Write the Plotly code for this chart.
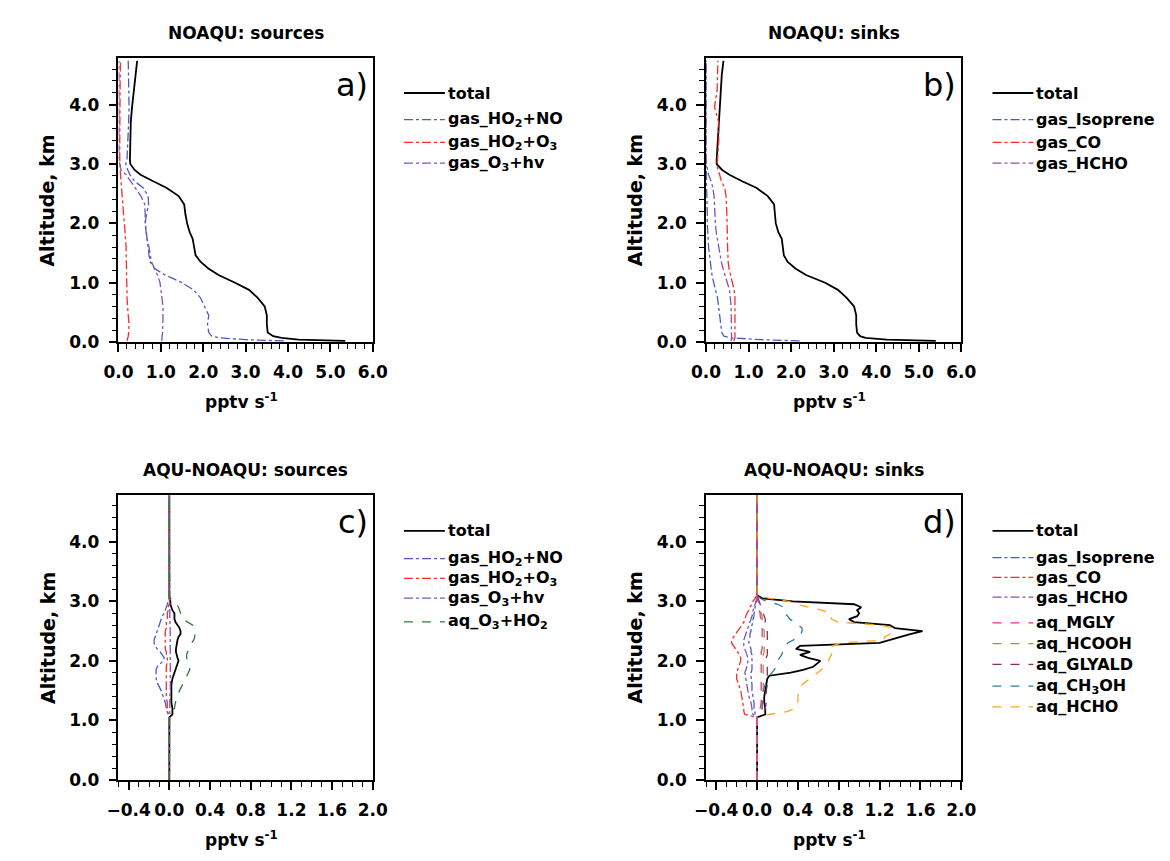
import plotly.graph_objects as go

W, H = 1170, 861
FONT = "DejaVu Sans, Liberation Sans, Arial, sans-serif"

# ---------------- data ----------------
alt_top = [0.02, 0.04, 0.07, 0.10, 0.16, 0.30, 0.45, 0.60, 0.75, 0.88, 1.00, 1.13, 1.24, 1.35, 1.46, 1.60, 1.74,
           1.85, 2.00, 2.15, 2.32, 2.46, 2.60, 2.71, 2.82, 2.90, 3.00, 3.07, 3.40, 3.70, 3.96, 4.24, 4.50, 4.74]

a_total = [5.35, 4.25, 3.85, 3.65, 3.52, 3.50, 3.50, 3.45, 3.28, 3.08, 2.75, 2.36, 2.12, 1.94, 1.82, 1.78, 1.75,
           1.68, 1.62, 1.58, 1.55, 1.42, 1.13, 0.82, 0.52, 0.38, 0.28, 0.27, 0.28, 0.29, 0.32, 0.36, 0.40, 0.44]
a_ho2_no = [3.90, 3.00, 2.40, 2.20, 2.13, 2.10, 2.13, 2.03, 1.93, 1.77, 1.50, 1.10, 0.85, 0.75, 0.72, 0.70, 0.67,
            0.65, 0.63, 0.66, 0.71, 0.70, 0.58, 0.38, 0.27, 0.22, 0.17, 0.20, 0.23, 0.24, 0.25, 0.24, 0.23, 0.23]
a_ho2_o3 = [0.20, 0.21, 0.22, 0.23, 0.24, 0.25, 0.23, 0.21, 0.20, 0.20, 0.19, 0.19, 0.19, 0.18, 0.18, 0.18, 0.17,
            0.16, 0.14, 0.12, 0.10, 0.09, 0.08, 0.07, 0.05, 0.04, 0.04, 0.03, 0.03, 0.03, 0.03, 0.04, 0.04, 0.05]
a_o3_hv = [1.02, 1.02, 1.03, 1.03, 1.04, 1.05, 1.05, 1.05, 1.03, 1.01, 0.98, 0.92, 0.85, 0.78, 0.75, 0.72, 0.67,
           0.65, 0.63, 0.63, 0.62, 0.53, 0.40, 0.30, 0.18, 0.06, 0.02, 0.01, 0.01, 0.01, 0.01, 0.01, 0.01, 0.01]

b_total = [5.40, 4.25, 3.75, 3.62, 3.55, 3.53, 3.53, 3.48, 3.30, 3.10, 2.80, 2.35, 2.10, 1.92, 1.83, 1.80, 1.78,
           1.70, 1.64, 1.62, 1.60, 1.45, 1.18, 0.85, 0.55, 0.38, 0.25, 0.25, 0.28, 0.30, 0.32, 0.35, 0.37, 0.41]
b_isoprene = [2.20, 1.30, 0.60, 0.42, 0.37, 0.35, 0.33, 0.30, 0.27, 0.22, 0.18, 0.14, 0.12, 0.10, 0.08, 0.06, 0.05,
              0.04, 0.03, 0.03, 0.02, 0.02, 0.01, 0.01, 0.01, 0.00, 0.00, 0.00, 0.00, 0.00, 0.00, 0.00, 0.00, 0.00]
b_co = [0.65, 0.67, 0.68, 0.68, 0.68, 0.68, 0.68, 0.68, 0.68, 0.66, 0.62, 0.57, 0.54, 0.52, 0.51, 0.50, 0.50,
        0.50, 0.50, 0.49, 0.48, 0.47, 0.44, 0.36, 0.32, 0.28, 0.26, 0.27, 0.30, 0.30, 0.20, 0.26, 0.27, 0.28]
b_hcho = [0.58, 0.60, 0.60, 0.60, 0.60, 0.60, 0.60, 0.59, 0.57, 0.55, 0.50, 0.44, 0.40, 0.36, 0.33, 0.30, 0.26,
          0.24, 0.22, 0.21, 0.20, 0.19, 0.16, 0.12, 0.06, 0.03, 0.01, 0.00, 0.00, 0.00, 0.00, 0.00, 0.00, 0.00]

alt_bot = [0.00, 1.05, 1.10, 1.15, 1.20, 1.30, 1.40, 1.50, 1.60, 1.70, 1.75, 1.80, 1.85, 1.90, 2.00, 2.05, 2.10,
           2.15, 2.20, 2.25, 2.30, 2.35, 2.40, 2.45, 2.50, 2.55, 2.60, 2.65, 2.70, 2.75, 2.80, 2.85, 2.90, 2.95,
           3.00, 3.05, 3.10, 4.78]

c_total = [0, 0, 0.03, 0.03, 0.03, 0.02, 0.02, 0.02, 0.02, 0.03, 0.04, 0.05, 0.06, 0.07, 0.09, 0.08, 0.07,
           0.065, 0.065, 0.07, 0.07, 0.08, 0.09, 0.11, 0.11, 0.10, 0.08, 0.06, 0.05, 0.05, 0.05, 0.03, 0.02, 0.01,
           0.01, 0, 0, 0]
c_ho2_no = [0, 0, -0.01, -0.02, -0.03, -0.04, -0.06, -0.08, -0.11, -0.13, -0.13, -0.13, -0.13, -0.12, -0.06, -0.05,
            -0.07, -0.09, -0.12, -0.14, -0.15, -0.15, -0.14, -0.13, -0.12, -0.11, -0.10, -0.09, -0.08, -0.07, -0.05,
            -0.04, -0.03, -0.02, -0.01, 0, 0, 0]
c_ho2_o3 = [0, 0, -0.01, -0.02, -0.02, -0.02, -0.03, -0.03, -0.03, -0.03, -0.03, -0.03, -0.03, -0.03, -0.02, -0.02,
            -0.03, -0.03, -0.04, -0.04, -0.04, -0.04, -0.04, -0.04, -0.04, -0.03, -0.03, -0.03, -0.02, -0.02, -0.02,
            -0.01, -0.01, -0.01, 0, 0, 0, 0]
c_o3_hv = [0, 0, 0, 0, 0, 0.005, 0.005, 0.01, 0.01, 0.01, 0.012, 0.015, 0.015, 0.015, 0.015, 0.015, 0.015, 0.015,
           0.015, 0.015, 0.015, 0.015, 0.015, 0.012, 0.01, 0.01, 0.008, 0.005, 0.005, 0.003, 0.002, 0, 0, 0, 0, 0,
           0, 0]
c_aq_o3_ho2 = [0, 0, 0.0, 0.02, 0.05, 0.06, 0.08, 0.10, 0.13, 0.16, 0.17, 0.19, 0.20, 0.20, 0.18, 0.17, 0.17,
               0.18, 0.20, 0.21, 0.22, 0.24, 0.25, 0.25, 0.24, 0.24, 0.23, 0.18, 0.13, 0.12, 0.11, 0.10, 0.09,
               0.07, 0.05, 0.01, 0, 0]

d_total = [0, 0, 0.08, 0.08, 0.08, 0.07, 0.07, 0.08, 0.09, 0.10, 0.12, 0.33, 0.45, 0.55, 0.62, 0.50, 0.42, 0.52,
           0.38, 0.42, 1.20, 1.30, 1.38, 1.50, 1.62, 1.35, 1.30, 0.95, 0.90, 0.98, 1.00, 0.98, 1.02, 0.95, 0.35,
           0.05, 0, 0]
d_isoprene = [0, 0, -0.02, -0.02, -0.03, -0.03, -0.04, -0.05, -0.05, -0.06, -0.06, -0.06, -0.05, -0.05, -0.05,
              -0.05, -0.05, -0.06, -0.06, -0.07, -0.08, -0.08, -0.07, -0.07, -0.06, -0.06, -0.05, -0.04, -0.04,
              -0.03, -0.03, -0.02, -0.02, -0.01, -0.01, 0, 0, 0]
d_co = [0, 0, -0.12, -0.13, -0.13, -0.14, -0.15, -0.16, -0.18, -0.20, -0.20, -0.20, -0.19, -0.18, -0.16, -0.16,
        -0.17, -0.19, -0.21, -0.23, -0.25, -0.25, -0.23, -0.21, -0.19, -0.17, -0.15, -0.13, -0.12, -0.11, -0.10,
        -0.08, -0.07, -0.05, -0.04, -0.02, 0, 0]
d_hcho = [0, 0, -0.04, -0.05, -0.05, -0.06, -0.08, -0.09, -0.10, -0.11, -0.12, -0.12, -0.11, -0.10, -0.09, -0.09,
          -0.10, -0.11, -0.12, -0.13, -0.13, -0.13, -0.12, -0.11, -0.10, -0.09, -0.08, -0.07, -0.06, -0.05, -0.04,
          -0.04, -0.03, -0.02, -0.01, 0, 0, 0]
d_aq_mgly = [0, 0, 0.02, 0.03, 0.03, 0.04, 0.04, 0.04, 0.04, 0.04, 0.04, 0.04, 0.04, 0.04, 0.04, 0.04, 0.04, 0.04,
             0.05, 0.05, 0.05, 0.05, 0.05, 0.05, 0.05, 0.05, 0.04, 0.04, 0.04, 0.03, 0.03, 0.02, 0.02, 0.01, 0.01,
             0, 0, 0]
d_aq_hcooh = [0, 0, 0.03, 0.04, 0.05, 0.05, 0.06, 0.06, 0.06, 0.06, 0.06, 0.06, 0.06, 0.06, 0.06, 0.06, 0.06,
              0.07, 0.07, 0.07, 0.07, 0.07, 0.07, 0.07, 0.07, 0.06, 0.06, 0.06, 0.05, 0.05, 0.04, 0.03, 0.03, 0.02,
              0.01, 0, 0, 0]
d_aq_glyald = [0, 0, 0.05, 0.07, 0.08, 0.09, 0.09, 0.09, 0.10, 0.10, 0.10, 0.10, 0.10, 0.10, 0.09, 0.09, 0.10,
               0.10, 0.10, 0.10, 0.10, 0.10, 0.10, 0.10, 0.10, 0.09, 0.09, 0.08, 0.08, 0.07, 0.06, 0.05, 0.04, 0.03,
               0.02, 0.01, 0, 0]
d_aq_ch3oh = [0, 0, 0.03, 0.04, 0.05, 0.05, 0.05, 0.06, 0.08, 0.10, 0.12, 0.15, 0.17, 0.18, 0.20, 0.22, 0.24,
              0.25, 0.27, 0.29, 0.30, 0.36, 0.41, 0.43, 0.44, 0.44, 0.41, 0.37, 0.32, 0.30, 0.27, 0.27, 0.26, 0.20,
              0.09, 0.03, 0, 0]
d_aq_hcho = [0, 0, 0.12, 0.30, 0.37, 0.40, 0.40, 0.41, 0.44, 0.52, 0.56, 0.60, 0.63, 0.65, 0.70, 0.71, 0.73, 0.72,
             0.70, 0.74, 0.82, 1.24, 1.25, 1.30, 1.31, 1.34, 1.21, 0.79, 0.73, 0.72, 0.72, 0.63, 0.50, 0.38, 0.31,
             0.12, 0, 0]

# ---------------- styles ----------------
C_BLACK = "#000000"
C_BLUE = "#4a5cc0"
C_RED = "#ff2a2a"
C_PURPLE = "#8450b8"
C_GREEN = "#2e7d3a"
C_MAGENTA = "#e8309a"
C_OLIVE = "#9a9a2a"
C_DMAG = "#8e2a66"
C_TEAL = "#2e7c9c"
C_ORANGE = "#ffa41e"


def px_x(p):
    return p / W


def px_y(p):
    return 1 - p / H


panels = [
    dict(key="", box=(98, 359, 51, 338), xr=[0, 6], dt=1.0, t0=0.0, mdt=0.2,
         title="NOAQU: sources", letter="a)", alt=alt_top, leg_x=391,
         series=[("total", a_total, C_BLACK, "solid"),
                 ("gas_HO<sub>2</sub>+NO", a_ho2_no, C_BLUE, "dashdot"),
                 ("gas_HO<sub>2</sub>+O<sub>3</sub>", a_ho2_o3, C_RED, "dashdot"),
                 ("gas_O<sub>3</sub>+hv", a_o3_hv, C_PURPLE, "dashdot")],
         leg_y=[86, 113, 136, 157]),
    dict(key="2", box=(701, 963, 51, 338), xr=[0, 6], dt=1.0, t0=0.0, mdt=0.2,
         title="NOAQU: sinks", letter="b)", alt=alt_top, leg_x=995,
         series=[("total", b_total, C_BLACK, "solid"),
                 ("gas_Isoprene", b_isoprene, C_BLUE, "dashdot"),
                 ("gas_CO", b_co, C_RED, "dashdot"),
                 ("gas_HCHO", b_hcho, C_PURPLE, "dashdot")],
         leg_y=[86, 113, 136, 157]),
    dict(key="3", box=(98, 359, 493, 781), xr=[-0.5, 2.0], dt=0.4, t0=-0.4, mdt=0.1,
         title="AQU-NOAQU: sources", letter="c)", alt=alt_bot, leg_x=391,
         series=[("total", c_total, C_BLACK, "solid"),
                 ("gas_HO<sub>2</sub>+NO", c_ho2_no, C_BLUE, "dashdot"),
                 ("gas_HO<sub>2</sub>+O<sub>3</sub>", c_ho2_o3, C_RED, "dashdot"),
                 ("gas_O<sub>3</sub>+hv", c_o3_hv, C_PURPLE, "dashdot"),
                 ("aq_O<sub>3</sub>+HO<sub>2</sub>", c_aq_o3_ho2, C_GREEN, "dash")],
         leg_y=[529, 557, 577, 597, 621]),
    dict(key="4", box=(701, 963, 493, 781), xr=[-0.5, 2.0], dt=0.4, t0=-0.4, mdt=0.1,
         title="AQU-NOAQU: sinks", letter="d)", alt=alt_bot, leg_x=995,
         series=[("total", d_total, C_BLACK, "solid"),
                 ("gas_Isoprene", d_isoprene, C_BLUE, "dashdot"),
                 ("gas_CO", d_co, C_RED, "dashdot"),
                 ("gas_HCHO", d_hcho, C_PURPLE, "dashdot"),
                 ("aq_MGLY", d_aq_mgly, C_MAGENTA, "dash"),
                 ("aq_HCOOH", d_aq_hcooh, C_OLIVE, "dash"),
                 ("aq_GLYALD", d_aq_glyald, C_DMAG, "dash"),
                 ("aq_CH<sub>3</sub>OH", d_aq_ch3oh, C_TEAL, "dash"),
                 ("aq_HCHO", d_aq_hcho, C_ORANGE, "dash")],
         leg_y=[529, 556, 576, 596, 622, 643, 664, 686, 707]),
]

fig = go.Figure()
annotations = []
shapes = []
layout_axes = {}

for p in panels:
    k = p["key"]
    x0, x1, y0, y1 = p["box"]
    xa = "x" + k
    ya = "y" + k
    order = list(range(len(p["series"])))
    if p["letter"] == "d)":
        order = [0, 1, 2, 3, 5, 6, 7, 8, 4]
    for i in order:
        name, vals, col, dash = p["series"][i]
        fig.add_trace(go.Scatter(
            x=vals, y=p["alt"], mode="lines", name=name,
            line=dict(color=col, width=1.8 if col == C_BLACK else 1.3, dash=dash),
            xaxis=xa, yaxis=ya, showlegend=False, hoverinfo="skip"))

    axis_common = dict(
        showgrid=False, zeroline=False, showline=True, linecolor="black", linewidth=1.6,
        mirror=True, ticks="outside", ticklen=8, tickwidth=1.5, tickcolor="black",
        tickfont=dict(family=FONT, size=17, color="black", weight="bold"),
        tickformat=".1f", fixedrange=True,
    )
    layout_axes["xaxis" + k] = dict(
        axis_common, domain=[px_x(x0), px_x(x1)], anchor=ya, range=p["xr"],
        tickmode="linear", tick0=p["t0"], dtick=p["dt"], ticklabelstandoff=6,
        minor=dict(ticks="outside", ticklen=5, tickwidth=1.3, tickcolor="black",
                   dtick=p["mdt"], tick0=p["t0"]))
    layout_axes["yaxis" + k] = dict(
        axis_common, domain=[px_y(y1), px_y(y0)], anchor=xa, range=[0, 4.78],
        tickmode="linear", tick0=0, dtick=1.0, ticklabelstandoff=6,
        minor=dict(ticks="outside", ticklen=5, tickwidth=1.3, tickcolor="black",
                   dtick=0.2, tick0=0))

    cx = (x0 + x1) / 2
    annotations.append(dict(text=p["title"], x=px_x(cx), y=px_y(y0 - 26), xref="paper", yref="paper",
                            showarrow=False, xanchor="center", yanchor="middle",
                            font=dict(family=FONT, size=17, color="black", weight="bold")))
    annotations.append(dict(text="Altitude, km", x=px_x(x0 - 73), y=px_y((y0 + y1) / 2), xref="paper",
                            yref="paper", showarrow=False, textangle=-90, xanchor="center",
                            yanchor="middle", font=dict(family=FONT, size=19, color="black", weight="bold")))
    annotations.append(dict(text="pptv s<sup>-1</sup>", x=px_x(cx - 4), y=px_y(y1 + 60), xref="paper",
                            yref="paper", showarrow=False, xanchor="center", yanchor="middle",
                            font=dict(family=FONT, size=17, color="black", weight="bold")))
    annotations.append(dict(text=p["letter"], x=px_x(x1 - 3), y=px_y(y0 + 27), xref="paper", yref="paper",
                            showarrow=False, xanchor="right", yanchor="middle",
                            font=dict(family=FONT, size=32, color="black")))
    lx = p["leg_x"]
    for (name, vals, col, dash), ly in zip(p["series"], p["leg_y"]):
        shapes.append(dict(type="line", xref="paper", yref="paper", x0=px_x(lx), x1=px_x(lx + 42),
                           y0=px_y(ly), y1=px_y(ly),
                           line=dict(color=col, width=1.8 if col == C_BLACK else 1.3, dash=dash)))
        annotations.append(dict(text=name, x=px_x(lx + 43), y=px_y(ly), xref="paper", yref="paper",
                                showarrow=False, xanchor="left", yanchor="middle",
                                font=dict(family=FONT, size=16, color="black", weight="bold")))

fig.update_layout(
    width=W, height=H, margin=dict(l=0, r=0, t=0, b=0),
    paper_bgcolor="white", plot_bgcolor="white",
    showlegend=False, annotations=annotations, shapes=shapes,
    **layout_axes,
)

fig.write_html("out.html")
